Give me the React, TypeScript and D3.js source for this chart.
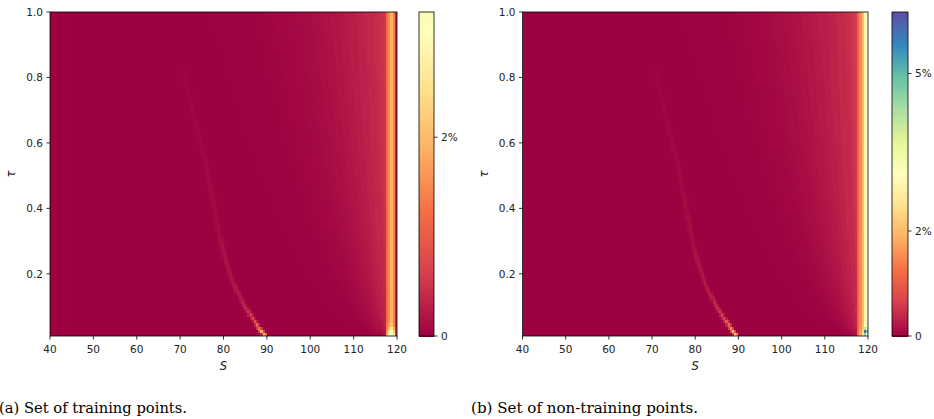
import React from "react";
import * as d3 from "d3";

// ---------------- data ----------------
const sTicks = [40, 50, 60, 70, 80, 90, 100, 110, 120];
const tauTicks = [0.2, 0.4, 0.6, 0.8, 1.0];
const sDomain = [40, 120];
const tauDomain = [0.01, 1.0];
const colorMax = 6.17; // % at top of the shared Spectral scale
const cbarMaxA = 3.26;
const cbarMaxB = 6.17;
const cbarTicksA = [0, 2];
const cbarTicksB = [0, 2, 5];

// error profile (%) vs scaled distance d = (119 - S)/sqrt(tau)
const baseD = [0, 1, 2, 3, 4, 5, 6, 7, 8, 9, 10, 11, 12, 13, 14, 15, 16, 17, 18, 19, 20, 22, 24, 26, 27, 28, 29, 30, 32, 35, 40, 50, 400];
const baseErrA = [0.75, 0.62, 0.52, 0.47, 0.42, 0.37, 0.39, 0.32, 0.34, 0.27, 0.29, 0.23, 0.24, 0.19, 0.21, 0.16, 0.17, 0.13, 0.14, 0.11, 0.11, 0.085, 0.07, 0.05, 0.065, 0.04, 0.04, 0.03, 0.02, 0.012, 0.006, 0.0, 0.0];
const baseErrB = [0.85, 0.7, 0.57, 0.5, 0.44, 0.38, 0.41, 0.33, 0.35, 0.28, 0.3, 0.24, 0.25, 0.2, 0.22, 0.17, 0.18, 0.14, 0.15, 0.11, 0.12, 0.09, 0.07, 0.05, 0.065, 0.04, 0.04, 0.03, 0.02, 0.012, 0.006, 0.0, 0.0];

// ridge curve (S position and height vs tau)
const ridgeTau = [0.01, 0.02, 0.04, 0.06, 0.09, 0.13, 0.17, 0.25, 0.32, 0.42, 0.53, 0.64, 0.75, 0.85];
const ridgeS = [89.8, 89.0, 88.0, 87.0, 85.4, 83.8, 82.3, 80.3, 79.1, 77.6, 76.1, 74.0, 72.0, 70.5];
const ridgeErrA = [2.6, 2.2, 1.2, 0.8, 0.5, 0.35, 0.25, 0.18, 0.14, 0.11, 0.08, 0.06, 0.04, 0.0];
const ridgeErrB = [2.8, 2.4, 1.3, 0.85, 0.55, 0.38, 0.28, 0.2, 0.15, 0.12, 0.09, 0.07, 0.05, 0.0];

// bright band near the right edge (cells starting at these S)
const bandS = [117.5, 118, 118.5, 119, 119.5];
const bandErrA = [1.2, 1.5, 1.9, 1.4, 0.35];
const bandErrB = [1.1, 1.5, 2.0, 2.8, 3.1];
// lowest rows (tau 0.01-0.05) of the band
const cornerTau = [0.01, 0.02, 0.03, 0.04];
const cornerErrA = [
  [1.8, 2.8, 3.2, 2.6, 0.6],
  [1.6, 2.5, 3.0, 2.2, 0.5],
  [1.4, 2.0, 2.5, 1.8, 0.4],
  [1.3, 1.7, 2.1, 1.5, 0.35],
];
const cornerErrB = [
  [1.2, 1.8, 2.6, 4.5, 3.6],
  [1.2, 1.7, 2.4, 5.9, 4.8],
  [1.1, 1.6, 2.2, 4.2, 3.8],
  [1.1, 1.5, 2.0, 3.2, 3.3],
];

const spectral = ["#9e0142", "#d53e4f", "#f46d43", "#fdae61", "#fee08b", "#ffffbf", "#e6f598", "#abdda4", "#66c2a5", "#3288bd", "#5e4fa2"];

// ---------------- layout ----------------
const W = 934;
const H = 419;
const plotTop = 12;
const plotBottom = 336;
const panels = [
  { key: "a", x0: 50, x1: 397, cb0: 419, cb1: 434, base: baseErrA, ridge: ridgeErrA, band: bandErrA, corner: cornerErrA, cbMax: cbarMaxA, cbTicks: cbarTicksA, caption: "(a) Set of training points.", capX: -1, capW: 188 },
  { key: "b", x0: 522.5, x1: 868, cb0: 892, cb1: 908, base: baseErrB, ridge: ridgeErrB, band: bandErrB, corner: cornerErrB, cbMax: cbarMaxB, cbTicks: cbarTicksB, caption: "(b) Set of non-training points.", capX: 471, capW: 227 },
];

const color = d3
  .scaleLinear<string>()
  .domain(spectral.map((_, i) => (i / (spectral.length - 1)) * colorMax))
  .range(spectral)
  .interpolate(d3.interpolateRgb)
  .clamp(true);

const tickFont = "DejaVu Sans, sans-serif";
const ink = "#222";
const tickSize = 10.5;

function Panel({ p }: { p: any }) {
  const x = d3.scaleLinear().domain(sDomain).range([p.x0, p.x1]);
  const y = d3.scaleLinear().domain(tauDomain).range([plotBottom, plotTop]);
  const baseF = d3.scaleLinear().domain(baseD).range(p.base).clamp(true);
  const rS = d3.scaleLinear().domain(ridgeTau).range(ridgeS).clamp(true);
  const rE = d3.scaleLinear().domain(ridgeTau).range(p.ridge).clamp(true);

  const sEdges = d3.range(0, 161).map((i) => sDomain[0] + i * 0.5);
  const tEdges = d3.range(0, 100).map((i) => +(0.01 + i * 0.01).toFixed(2));

  const value = (s: number, t: number) => {
    if (s >= bandS[0]) {
      const i = Math.min(bandS.length - 1, Math.floor((s - bandS[0]) / 0.5));
      const r = Math.floor((t - cornerTau[0]) / 0.01 + 1e-6);
      if (r >= 0 && r < cornerTau.length) return p.corner[r][i];
      return p.band[i];
    }
    const d = (119 - s) / Math.sqrt(t);
    const b = baseF(d);
    const rs = rS(t);
    const re = rE(t);
    const w = 0.8;
    const rr = re * Math.max(0, 1 - Math.abs(s - rs) / w);
    return b + rr;
  };

  const rects: React.ReactNode[] = [];
  for (let j = 0; j < tEdges.length - 1; j++) {
    const t0 = tEdges[j];
    const t1 = tEdges[j + 1];
    const tc = (t0 + t1) / 2;
    const yTop = y(t1);
    const yBot = y(t0);
    let runStart = 0;
    let runColor = "";
    for (let i = 0; i <= sEdges.length - 1; i++) {
      let c = "";
      if (i < sEdges.length - 1) {
        const sc = (sEdges[i] + sEdges[i + 1]) / 2;
        c = color(value(sc, tc));
      }
      if (i === 0) {
        runColor = c;
        runStart = 0;
        continue;
      }
      if (c !== runColor) {
        const xa = x(sEdges[runStart]);
        const xb = x(sEdges[i]);
        rects.push(
          <rect key={`${j}-${runStart}`} x={xa} y={yTop} width={xb - xa + 0.4} height={yBot - yTop + 0.4} fill={runColor} />
        );
        runStart = i;
        runColor = c;
      }
    }
  }

  const midX = (p.x0 + p.x1) / 2;
  const cbY = d3.scaleLinear().domain([0, p.cbMax]).range([plotBottom, plotTop]);
  const cbSteps = d3.range(0, 240).map((k) => (k / 240) * p.cbMax);
  const cbStep = p.cbMax / 240;

  return (
    <g>
      <g shapeRendering="crispEdges">{rects}</g>
      <rect x={p.x0} y={plotTop} width={p.x1 - p.x0} height={plotBottom - plotTop} fill="none" stroke="#000" strokeWidth={0.8} />
      {sTicks.map((s) => (
        <g key={s}>
          <line x1={x(s)} x2={x(s)} y1={plotBottom} y2={plotBottom + 3.5} stroke="#000" strokeWidth={0.8} />
          <text x={x(s)} y={353} textAnchor="middle" fontFamily={tickFont} fontSize={tickSize} fill={ink}>
            {s}
          </text>
        </g>
      ))}
      {tauTicks.map((t) => (
        <g key={t}>
          <line x1={p.x0 - 3.5} x2={p.x0} y1={y(t)} y2={y(t)} stroke="#000" strokeWidth={0.8} />
          <text x={p.x0 - 7} y={y(t)} dy="0.36em" textAnchor="end" fontFamily={tickFont} fontSize={tickSize} fill={ink}>
            {t.toFixed(1)}
          </text>
        </g>
      ))}
      <text x={midX} y={370} textAnchor="middle" fontFamily={tickFont} fontStyle="italic" fontSize={11.5} fill={ink}>
        S
      </text>
      <text
        transform={`translate(${p.x0 - 39},${(plotTop + plotBottom) / 2}) rotate(-90)`}
        textAnchor="middle"
        dy="0.35em"
        fontFamily={tickFont}
        fontStyle="italic"
        fontSize={11.5}
        fill={ink}
      >
        τ
      </text>
      {/* colorbar */}
      <g shapeRendering="crispEdges">
        {cbSteps.map((v, k) => (
          <rect key={k} x={p.cb0} y={cbY(v + cbStep)} width={p.cb1 - p.cb0} height={cbY(v) - cbY(v + cbStep) + 0.5} fill={color(v + cbStep / 2)} />
        ))}
      </g>
      <rect x={p.cb0} y={plotTop} width={p.cb1 - p.cb0} height={plotBottom - plotTop} fill="none" stroke="#000" strokeWidth={0.8} />
      {p.cbTicks.map((v: number) => (
        <g key={v}>
          <line x1={p.cb1} x2={p.cb1 + 3.5} y1={cbY(v)} y2={cbY(v)} stroke="#000" strokeWidth={0.8} />
          <text x={p.cb1 + 7} y={cbY(v)} dy="0.36em" fontFamily={tickFont} fontSize={tickSize} fill={ink}>
            {v === 0 ? "0" : `${v}%`}
          </text>
        </g>
      ))}
      <text x={p.capX} y={412.7} fontFamily="DejaVu Serif, serif" fontSize={15} fill="#000" textLength={p.capW} lengthAdjust="spacingAndGlyphs">
        {p.caption}
      </text>
    </g>
  );
}

export default function App() {
  return (
    <svg width={W} height={H} style={{ position: "absolute", left: 0, top: 0, background: "#fff" }}>
      <rect x={0} y={0} width={W} height={H} fill="#fff" />
      {panels.map((p) => (
        <Panel key={p.key} p={p} />
      ))}
    </svg>
  );
}
